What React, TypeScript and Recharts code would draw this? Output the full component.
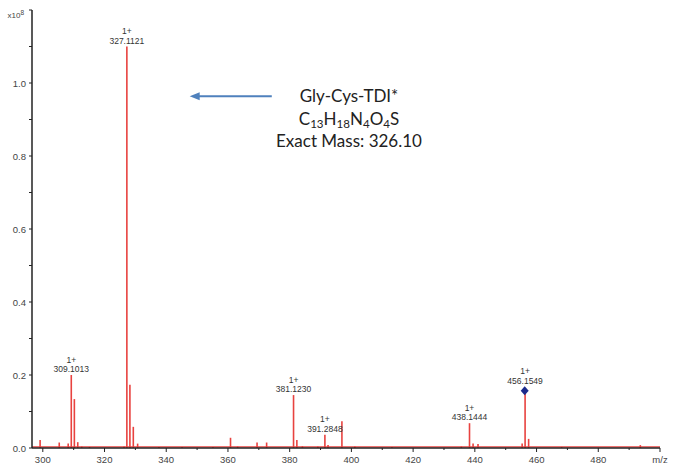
import { ComposedChart, Bar, Scatter, XAxis, YAxis, LabelList, ReferenceLine } from "recharts"

// m/z and intensity (x10^8) of every stick in the spectrum
const peakMz = [
  299.0, 305.2, 308.1, 309.1013, 310.1, 311.2, 312.5, 315.0, 326.2, 327.1121, 328.1, 329.2, 330.6,
  337.5, 345.0, 355.0, 360.7, 363.0, 369.3, 372.4, 381.123, 382.2, 384.0, 389.0, 391.2848, 392.3,
  396.8, 401.0, 413.0, 435.5, 438.1444, 439.3, 440.9, 455.2, 456.1549, 457.3, 468.0, 493.5,
]
const peakIntensity = [
  0.022, 0.015, 0.012, 0.2, 0.134, 0.016, 0.004, 0.003, 0.004, 1.1, 0.173, 0.058, 0.012,
  0.003, 0.003, 0.003, 0.028, 0.004, 0.015, 0.015, 0.145, 0.022, 0.005, 0.004, 0.036, 0.008,
  0.073, 0.004, 0.003, 0.004, 0.068, 0.012, 0.011, 0.012, 0.157, 0.025, 0.003, 0.008,
]

// annotated peaks
const labeledMz = ["309.1013", "327.1121", "381.1230", "391.2848", "438.1444", "456.1549"]
const labeledCharge = ["1+", "1+", "1+", "1+", "1+", "1+"]
const precursorMz = 456.1549

const xTicks = [300, 310, 320, 330, 340, 350, 360, 370, 380, 390, 400, 410, 420, 430, 440, 450, 460, 470, 480, 490, 500]
const yTicks = [0, 0.1, 0.2, 0.3, 0.4, 0.5, 0.6, 0.7, 0.8, 0.9, 1.0, 1.1, 1.2]

const peaks = peakMz.map((mz, i) => {
  const li = labeledMz.findIndex((s) => Math.abs(parseFloat(s) - mz) < 0.001)
  return {
    mz,
    intensity: peakIntensity[i],
    label: li >= 0 ? labeledMz[li] : undefined,
    charge: li >= 0 ? labeledCharge[li] : undefined,
  }
})

const precursor = peaks.filter((p) => Math.abs(p.mz - precursorMz) < 0.001)

const RED = "#e8423f"
const AXIS = "#222"
const TICK_TEXT = "#444"
const FONT = "'Liberation Sans', Arial, sans-serif"

function XTick({ x, y, payload }: any) {
  const v = payload.value
  const major = v % 20 === 0
  return (
    <g>
      <line x1={x} x2={x} y1={y} y2={y + (major ? 4 : 2)} stroke={AXIS} strokeWidth={1} />
      {major && (
        <text x={x} y={y + 15} textAnchor="middle" fontSize={9.5} fill={TICK_TEXT} fontFamily={FONT}>
          {v === 500 ? "m/z" : v}
        </text>
      )}
    </g>
  )
}

function YTick({ x, y, payload }: any) {
  const v = payload.value
  const tenth = Math.round(v * 10)
  const labeled = tenth % 2 === 0 && tenth <= 10
  return (
    <g>
      <line x1={x} x2={x - 3} y1={y} y2={y} stroke={AXIS} strokeWidth={1} />
      {labeled && (
        <text x={x - 6} y={y + 3.5} textAnchor="end" fontSize={9.5} fill={TICK_TEXT} fontFamily={FONT}>
          {v.toFixed(1)}
        </text>
      )}
      {tenth === 12 && (
        <text x={x - 8} y={y + 8} textAnchor="end" fontSize={8} fill={TICK_TEXT} fontFamily={FONT}>
          x10
          <tspan dy={-3.5} fontSize={6.5}>8</tspan>
        </text>
      )}
    </g>
  )
}

function PeakLabel(props: any) {
  const { x, y, width, value, index } = props
  if (!value) return null
  const cx = x + width / 2
  const lift = Math.abs(peaks[index].mz - precursorMz) < 0.001 ? 4 : 0
  return (
    <g fontFamily={FONT} fontSize={8.5} fill="#333" textAnchor="middle">
      <text x={cx} y={y - 12.5 - lift}>{peaks[index].charge}</text>
      <text x={cx} y={y - 3 - lift}>{value}</text>
    </g>
  )
}

function Diamond({ cx, cy }: any) {
  return <polygon points={`${cx},${cy - 4.5} ${cx + 4},${cy} ${cx},${cy + 4.5} ${cx - 4},${cy}`} fill="#1b2a8c" />
}

function Arrow({ x1, y1, x2, y2 }: any) {
  return (
    <g>
      <line x1={x1 + 8} y1={y1} x2={x2} y2={y2} stroke="#4f81bd" strokeWidth={2} />
      <polygon points={`${x1},${y1} ${x1 + 10},${y1 - 4} ${x1 + 10},${y1 + 4}`} fill="#4f81bd" />
    </g>
  )
}

export default function App() {
  const sub = { fontSize: "0.68em", verticalAlign: "-0.3em", lineHeight: 0 }
  return (
    <div style={{ position: "absolute", left: 0, top: 0, width: 676, height: 470, background: "#fff" }}>
      <ComposedChart width={676} height={470} data={peaks} margin={{ top: 10, right: 16, bottom: 0, left: 0 }}>
        <XAxis
          type="number"
          dataKey="mz"
          domain={[296.5, 500]}
          ticks={xTicks}
          allowDataOverflow
          height={22}
          tickSize={0}
          tickMargin={0}
          tickLine={false}
          axisLine={{ stroke: AXIS, strokeWidth: 1.5 }}
          tick={<XTick />}
          interval={0}
        />
        <YAxis
          type="number"
          domain={[0, 1.2]}
          ticks={yTicks}
          width={32}
          tickSize={0}
          tickMargin={0}
          tickLine={false}
          axisLine={{ stroke: AXIS, strokeWidth: 1.5 }}
          tick={<YTick />}
          interval={0}
        />
        <ReferenceLine y={0.003} stroke={RED} strokeWidth={1.3} />
        <Bar dataKey="intensity" fill={RED} barSize={1.6} isAnimationActive={false}>
          <LabelList dataKey="label" content={<PeakLabel />} />
        </Bar>
        <Scatter data={precursor} dataKey="intensity" shape={<Diamond />} isAnimationActive={false} />
        <ReferenceLine
          segment={[
            { x: 347.6, y: 0.964 },
            { x: 374.2, y: 0.964 },
          ]}
          shape={<Arrow />}
        />
      </ComposedChart>
      <div
        style={{
          position: "absolute",
          left: 249,
          top: 85,
          width: 200,
          textAlign: "center",
          fontFamily: "Lato, 'Open Sans', sans-serif",
          fontSize: 17,
          lineHeight: "22.5px",
          color: "#222",
        }}
      >
        <div>Gly-Cys-TDI*</div>
        <div>
          C<span style={sub}>13</span>H<span style={sub}>18</span>N<span style={sub}>4</span>O
          <span style={sub}>4</span>S
        </div>
        <div>Exact Mass: 326.10</div>
      </div>
    </div>
  )
}
